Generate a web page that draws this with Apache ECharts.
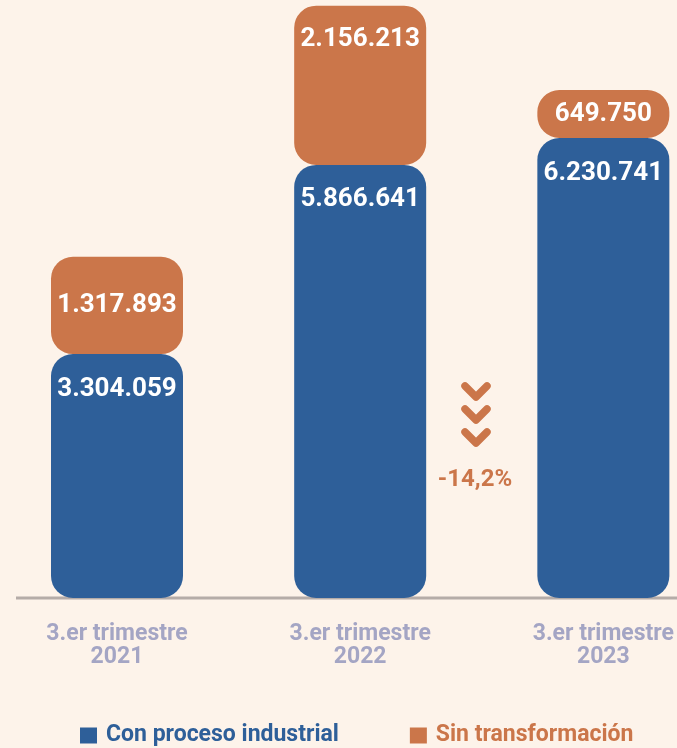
<!DOCTYPE html>
<html>
<head>
<meta charset="utf-8">
<script src="https://cdn.jsdelivr.net/npm/echarts@6/dist/echarts.min.js"></script>
<style>
  html, body { margin: 0; padding: 0; background: #fdf3ea; }
  #chart { width: 677px; height: 748px; }
</style>
</head>
<body>
<div id="chart"></div>
<script>
// categorías (trimestres)
const categories = ['3.er trimestre\n2021', '3.er trimestre\n2022', '3.er trimestre\n2023']
// series
const conProceso = [3304059, 5866641, 6230741]
const sinTransformacion = [1317893, 2156213, 649750]
// posición de la etiqueta naranja por barra
const sinLabelPos = ['inside', 'insideTop', 'inside']
const variacion = '-14,2%'

const BLUE = '#2e5f99'
const ORANGE = '#cb764a'
const FONT = 'Roboto'

// 3304059 -> 3.304.059
function fmt(v) {
  return String(v).replace(/\B(?=(\d{3})+(?!\d))/g, '.')
}

const chart = echarts.init(document.getElementById('chart'))

// chevrones de la anotación
function chevron(y) {
  return {
    type: 'polyline',
    z: 100,
    shape: { points: [[465, y], [476, y + 11], [487, y]] },
    style: { stroke: ORANGE, lineWidth: 7.5, fill: null, lineCap: 'round', lineJoin: 'round' }
  }
}

const option = {
  backgroundColor: '#fdf3ea',
  animation: false,
  // las barras se sitúan sobre los ticks (boundaryGap false)
  grid: { left: 117, right: 73, top: 0, bottom: 150 },
  legend: {
    left: 75,
    top: 719,
    itemWidth: 17,
    itemHeight: 16,
    itemGap: 71,
    icon: 'rect',
    selectedMode: false,
    textStyle: { fontFamily: FONT, fontSize: 23, fontWeight: 'bold', padding: [0, 0, 0, 4] },
    data: [
      { name: 'Con proceso industrial', textStyle: { color: BLUE } },
      { name: 'Sin transformación', textStyle: { color: ORANGE } }
    ]
  },
  xAxis: {
    type: 'category',
    data: categories,
    boundaryGap: false,
    axisLine: { show: false },
    axisTick: { show: false },
    splitLine: { show: false },
    axisLabel: {
      margin: 25,
      color: '#a4a5c4',
      fontFamily: FONT,
      fontSize: 23,
      fontWeight: 'bold',
      lineHeight: 23
    }
  },
  yAxis: {
    type: 'value',
    min: 0,
    max: 8100000,
    show: false,
    splitLine: { show: false }
  },
  series: [
    {
      name: 'Con proceso industrial',
      type: 'bar',
      stack: 'total',
      barWidth: 132,
      data: conProceso,
      itemStyle: { color: BLUE, borderRadius: 22 },
      label: {
        show: true,
        position: 'insideTop',
        distance: 22,
        color: '#fff',
        fontFamily: FONT,
        fontSize: 26,
        fontWeight: 'bold',
        formatter: p => fmt(p.value)
      }
    },
    {
      name: 'Sin transformación',
      type: 'bar',
      stack: 'total',
      barWidth: 132,
      data: sinTransformacion.map((v, i) => ({
        value: v,
        label: { position: sinLabelPos[i] }
      })),
      itemStyle: { color: ORANGE, borderRadius: 22 },
      label: {
        show: true,
        distance: 21,
        color: '#fff',
        fontFamily: FONT,
        fontSize: 26,
        fontWeight: 'bold',
        formatter: p => fmt(p.value)
      }
    }
  ],
  graphic: [
    // línea base
    {
      type: 'line',
      shape: { x1: 16, y1: 598, x2: 677, y2: 598 },
      style: { stroke: '#b5aca8', lineWidth: 3 },
      z: 1
    },
    chevron(386),
    chevron(409),
    chevron(432),
    {
      type: 'text',
      z: 100,
      x: 475,
      y: 480,
      style: {
        text: variacion,
        fill: ORANGE,
        font: 'bold 24px Roboto',
        textAlign: 'center',
        textVerticalAlign: 'middle'
      }
    }
  ]
}

chart.setOption(option)
</script>
</body>
</html>
